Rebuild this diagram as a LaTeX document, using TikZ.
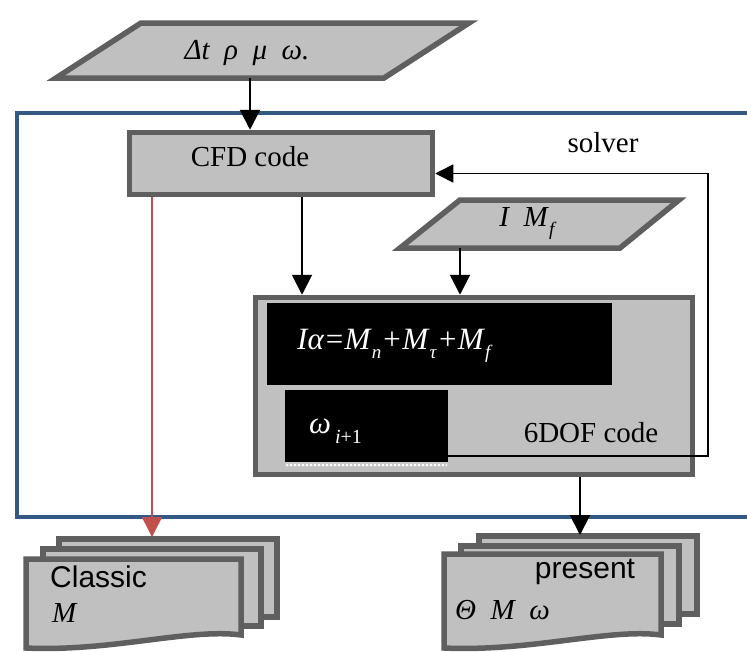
\documentclass[tikz,border=0pt]{standalone}
\usepackage{fontspec}
\setmainfont{Liberation Serif}
\setsansfont{Liberation Sans}
\usetikzlibrary{arrows.meta}
\definecolor{bordergray}{RGB}{95,95,95}
\definecolor{fillgray}{RGB}{192,192,192}
\definecolor{solverblue}{RGB}{52,88,132}
\definecolor{redline}{RGB}{192,80,77}
\newcommand\lowsub[1]{\raisebox{-9pt}{\fontsize{19}{19}\selectfont\textit{#1}}}
\begin{document}
\begin{tikzpicture}[x=1pt,y=-1pt,
  shapebox/.style={draw=bordergray,fill=fillgray,line width=5.5pt,line join=miter},
  rectbox/.style={shapebox,inner sep=0pt},
  blackbox/.style={fill=black,inner sep=0pt},
  arr/.style={line width=2pt,-{Triangle[length=20pt,width=20pt]}},
  fbarr/.style={line width=1.6pt,-{Triangle[length=18pt,width=18pt]}},
  redarr/.style={draw=redline,line width=1.6pt,-{Triangle[length=20pt,width=20pt,fill=redline]}},
  lbl/.style={font=\fontsize{29}{34}\selectfont,inner sep=0pt},
  sanslbl/.style={font=\sffamily\fontsize{30}{34}\selectfont,inner sep=0pt}]
\clip (0,0) rectangle (747,651);
\fill[white] (0,0) rectangle (747,651);
% solver frame
\draw[solverblue,line width=4.5pt] (17,113) rectangle (800,517);
\node[lbl] (solver) at (603,143) {solver};
% input parallelogram
\draw[shapebox] (141,23) -- (469,23) -- (384,78) -- (56,78) -- cycle;
\coordinate (inbot) at (250,78);
\node[lbl] (intext) at (247,53) {\textit{Δt\enskip ρ\enskip μ\enskip ω.}};
% CFD box
\node[rectbox,minimum width=303pt,minimum height=62pt] (cfd) at (281,163.5) {};
\node[lbl] (cfdtext) at (250,157) {CFD code};
% I Mf parallelogram
\draw[shapebox] (460,200) -- (679,200) -- (620,248) -- (400,248) -- cycle;
\coordinate (imfbot) at (460,248);
\node[lbl] (imf) at (528,224) {\textit{I\enskip M}\lowsub{f}};
% 6DOF box
\node[rectbox,minimum width=437pt,minimum height=177pt] (dof) at (474,386) {};
\node[blackbox,minimum width=345pt,minimum height=82pt] (eqbox) at (439.5,344) {};
\node[lbl,text=white,anchor=west,font=\fontsize{31}{34}\selectfont] (eq) at (297,346) {\textit{Iα=M}\lowsub{n}\textit{+M}\lowsub{τ}\textit{+M}\lowsub{f}};
\node[blackbox,minimum width=163pt,minimum height=72pt] (wbox) at (366.5,426) {};
\fill[black!22] (285,462) rectangle (448,467);
\draw[white,line width=2pt,dash pattern=on 2pt off 2pt] (286,464.5) -- (447,464.5);
\node[lbl,text=white,anchor=west,font=\fontsize{31}{34}\selectfont] (wtext) at (309,431) {\textit{ω}\kern4pt\raisebox{-10pt}{\fontsize{20}{20}\selectfont\textit{i}+1}};
\node[lbl] (doftext) at (591,433) {6DOF code};
% output documents: classic
\draw[shapebox] (59,539) -- (277,539) -- (277,617) -- (59,617) -- cycle;
\draw[shapebox] (43,549) -- (261,549) -- (261,626) -- (43,626) -- cycle;
\draw[shapebox] (26,559) -- (241,559) -- (241,635) .. controls (190,628) and (110,652) .. (26,648) -- cycle;
\coordinate (classictop) at (152,537);
\node[sanslbl,anchor=west] (classic) at (50,577) {Classic};
\node[lbl,anchor=west] (cm) at (52,613) {\textit{M}};
% output documents: present
\draw[shapebox] (479,536) -- (697,536) -- (697,614) -- (479,614) -- cycle;
\draw[shapebox] (461,546) -- (679,546) -- (679,624) -- (461,624) -- cycle;
\draw[shapebox] (444,554) -- (661,554) -- (661,635) .. controls (610,628) and (530,652) .. (444,648) -- cycle;
\coordinate (presenttop) at (580,535);
\node[sanslbl] (present) at (585,572) {present};
\node[lbl,anchor=west] (pm) at (455,610) {\textit{Θ\enskip M\enskip ω}};
% connectors
\draw[arr] (inbot) -- (inbot |- cfd.north);
\draw[arr] ([xshift=21pt]cfd.south) -- ([xshift=21pt]cfd.south |- dof.north);
\draw[arr] (imfbot) -- (imfbot |- dof.north);
\coordinate (fbx) at (708,300);
\draw[fbarr] ([yshift=-30pt]wbox.east) -| (fbx) |- ([yshift=-10pt]cfd.east);
\draw[redarr] (cfd.south -| classictop) -- (classictop);
\draw[arr] (dof.south -| presenttop) -- (presenttop);
\end{tikzpicture}
\end{document}
